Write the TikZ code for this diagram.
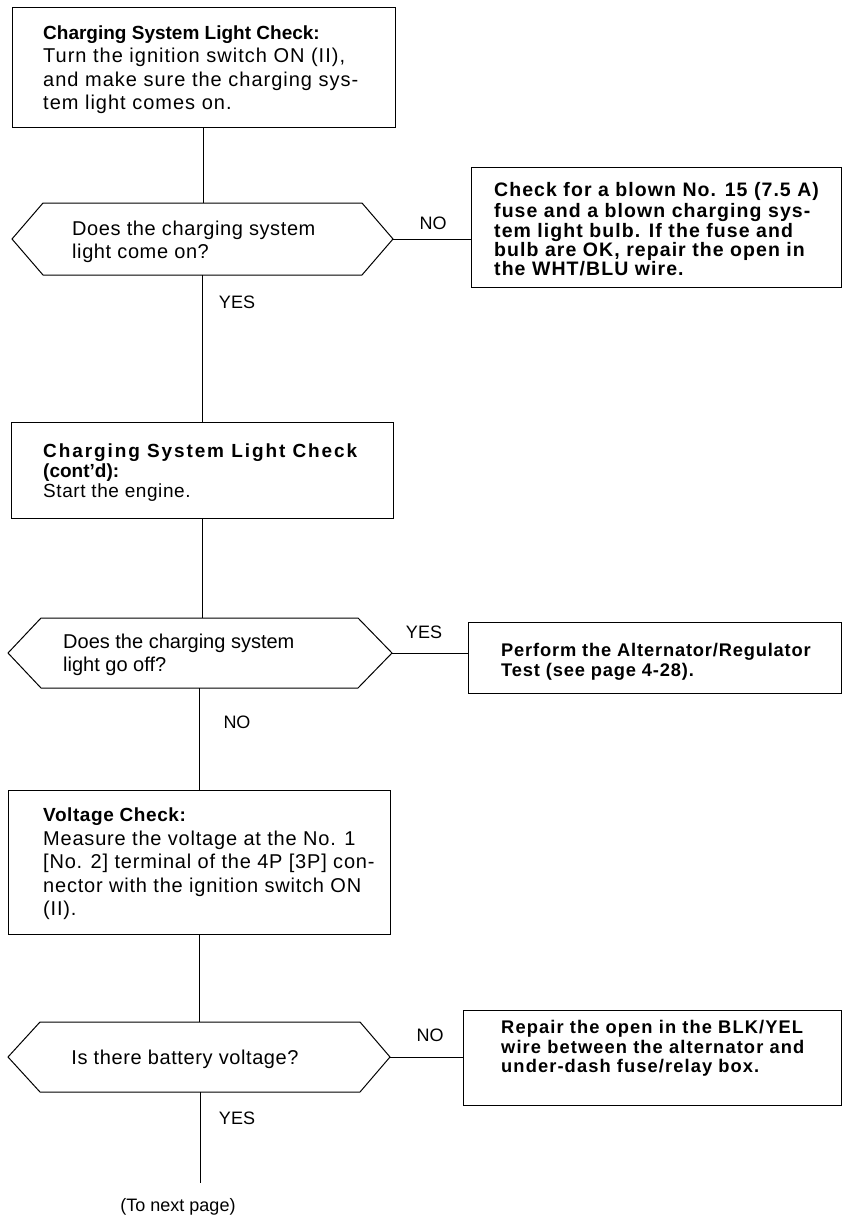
\documentclass[tikz,border=0pt]{standalone}
\usepackage{fontspec}
\setmainfont{Liberation Sans}
\newfontfamily\fZ{Liberation Sans}
\newfontfamily\fB{Liberation Sans}[LetterSpace=3]
\newfontfamily\fG{Liberation Sans}[LetterSpace=4]
\newfontfamily\fD{Liberation Sans}[LetterSpace=4.5]
\newfontfamily\fH{Liberation Sans}[LetterSpace=5]
\newfontfamily\fE{Liberation Sans}[LetterSpace=5.5]
\newfontfamily\fA{Liberation Sans}[LetterSpace=6]
\newfontfamily\fC{Liberation Sans}[LetterSpace=10]
\usetikzlibrary{calc}
\newcommand\myhex[3]{\draw[conn] (#1.north west) -- (#1.north east) -- ($(#1.east)+(#3,0)$) coordinate (#1r) -- (#1.south east) -- (#1.south west) -- ($(#1.west)+(-#2,0)$) coordinate (#1l) -- cycle;}
\begin{document}
\begin{tikzpicture}[x=1pt,y=-1pt,
  conn/.style={line width=1pt, draw=black},
  boxst/.style={draw=black, line width=1pt, inner sep=0pt, outer sep=0pt},
  hexin/.style={draw=none, inner sep=0pt, outer sep=0pt},
  txt/.style={inner sep=0pt, anchor=north west, align=left},
  lbl/.style={inner sep=0pt, anchor=base, font=\fZ\fontsize{18pt}{20pt}\selectfont}]
\useasboundingbox (0,0) rectangle (843,1220);
\fill[white] (0,0) rectangle (843,1220);

% boxes
\node[boxst, minimum width=383pt, minimum height=120pt] (b1) at (203.5,68) {};
\node[boxst, minimum width=370pt, minimum height=120pt] (b2) at (656,227) {};
\node[boxst, minimum width=382pt, minimum height=96pt] (b3) at (202,470) {};
\node[boxst, minimum width=373pt, minimum height=71pt] (bP) at (654.5,657.5) {};
\node[boxst, minimum width=382pt, minimum height=144pt] (b4) at (199,862) {};
\node[boxst, minimum width=378pt, minimum height=95pt] (b5) at (652,1057.5) {};

% decision hexagons
\node[hexin, minimum width=319pt, minimum height=72pt] (d1) at (202.5,239) {};
\myhex{d1}{31}{31}
\node[hexin, minimum width=317pt, minimum height=70pt] (d2) at (199.5,653) {};
\myhex{d2}{33}{34}
\node[hexin, minimum width=320pt, minimum height=70pt] (d3) at (200,1057) {};
\myhex{d3}{32}{30}

% texts
\node[txt, font=\fH\fontsize{20pt}{23.3pt}\selectfont] (t1) at (43,23.0)
 {{\fZ\bfseries\fontsize{19pt}{23.3pt}\selectfont\strut Charging System Light Check:}\\
  {\fH Turn the ignition switch ON (II),}\\
  {\fH and make sure the charging sys-}\\
  {\fH tem light comes on.}};
\node[txt, font=\fE\bfseries\fontsize{19.5pt}{19.3pt}\selectfont] (t2) at (494,182.5)
 {\strut Check for a blown No. 15 (7.5 A)\\
  fuse and a blown charging sys-\\
  tem light bulb. If the fuse and\\
  bulb are OK, repair the open in\\
  the WHT/BLU wire.};
\node[txt, font=\fB\fontsize{19pt}{20pt}\selectfont] (t3) at (43,443)
 {{\fC\bfseries\strut Charging System Light Check}\\
  {\fZ\bfseries (cont’d):}\\
  {\fB Start the engine.}};
\node[txt, font=\fD\bfseries\fontsize{18.3pt}{18.5pt}\selectfont] (tP) at (501,643.5)
 {\strut Perform the Alternator/Regulator\\
  Test (see page 4-28).};
\node[txt, font=\fG\fontsize{20pt}{23.5pt}\selectfont] (t4) at (43,805)
 {{\fB\bfseries\fontsize{19pt}{23.5pt}\selectfont\strut Voltage Check:}\\
  {\fG Measure the voltage at the No. 1}\\
  {\fG [No. 2] terminal of the 4P [3P] con-}\\
  {\fG nector with the ignition switch ON}\\
  {\fG (II).}};
\node[txt, font=\fA\bfseries\fontsize{18.3pt}{18.7pt}\selectfont] (t5) at (501,1020.3)
 {\strut Repair the open in the BLK/YEL\\
  wire between the alternator and\\
  under-dash fuse/relay box.};

\node[txt, font=\fB\fontsize{20pt}{23pt}\selectfont] (td1) at (72,219.3)
 {\strut Does the charging system\\ light come on?};
\node[txt, font=\fZ\fontsize{20pt}{23pt}\selectfont] (td2) at (63,632.3)
 {\strut Does the charging system\\ light go off?};
\node[inner sep=0pt, anchor=base, font=\fB\fontsize{20pt}{23pt}\selectfont] (td3) at (185,1064.2)
 {Is there battery voltage?};

% connectors
\coordinate (endp) at (199,1183);
\draw[conn] (b1.south) -- (b1.south |- d1.north);
\draw[conn] (d1r) -- (d1r -| b2.west);
\draw[conn] (d1.south) -- (d1.south |- b3.north);
\draw[conn] (b3.south) -- (b3.south |- d2.north);
\draw[conn] (d2r) -- (d2r -| bP.west);
\draw[conn] (d2.south) -- (d2.south |- b4.north);
\draw[conn] (b4.south) -- (b4.south |- d3.north);
\draw[conn] (d3r) -- (d3r -| b5.west);
\draw[conn] (d3.south) -- (d3.south |- endp);

% labels
\node[lbl] (no1) at (433,229.5) {NO};
\node[lbl] (yes1) at (237,308) {YES};
\node[lbl] (yes2) at (424,638) {YES};
\node[lbl] (no2) at (237,728) {NO};
\node[lbl] (no3) at (430,1041) {NO};
\node[lbl] (yes3) at (237,1124) {YES};
\node[lbl] (tonext) at (178,1211) {(To next page)};
\end{tikzpicture}
\end{document}
